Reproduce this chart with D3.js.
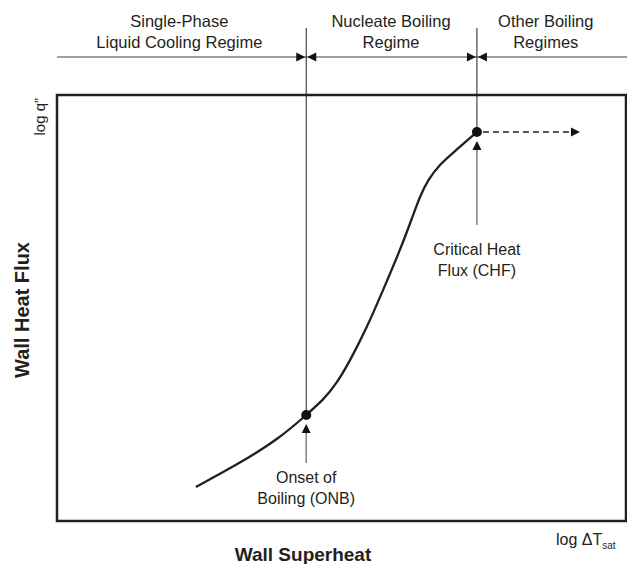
<!DOCTYPE html>
<html><head><meta charset="utf-8">
<script src="https://cdn.jsdelivr.net/npm/d3@7"></script>
<style>body{margin:0;background:#fff}svg{display:block}text{font-family:"Liberation Sans",Arial,sans-serif;fill:#231f20}</style>
</head><body>
<svg id="c" width="627" height="564"></svg>
<script>
// Boiling curve (arbitrary log units, 0-100 across the plot box)
const curveX = [24.4, 32.2, 39.2, 43.8, 46.8, 49.2, 51.5, 54.5, 57.3, 60.3, 62.4, 63.8, 65.2, 67.3, 70.0, 73.8];
const curveY = [8.0, 13.6, 19.5, 24.9, 28.4, 32.4, 37.6, 45.5, 54.2, 63.6, 71.1, 76.3, 80.1, 83.8, 86.9, 91.3];
const keyPoints = ["ONB", "CHF"];
const keyX = [43.8, 73.8];
const keyY = [24.9, 91.3];
const keyLabels = [["Onset of", "Boiling (ONB)"], ["Critical Heat", "Flux (CHF)"]];
const regimeLabels = [["Single-Phase", "Liquid Cooling Regime"], ["Nucleate Boiling", "Regime"], ["Other Boiling", "Regimes"]];
const regimeCenters = [21.5, 58.7, 85.9];
const dashEndX = 91.9;

const svg = d3.select("#c");
const box = {l: 57, t: 95, r: 626, b: 521};
const x = d3.scaleLinear().domain([0, 100]).range([box.l, box.r]);
const y = d3.scaleLinear().domain([0, 100]).range([box.b, box.t]);

function tri(g, tx, ty, dir, fill) {
  const L = 9, W = 4.5;
  let p;
  if (dir === 'r') p = [[tx, ty], [tx - L, ty - W], [tx - L, ty + W]];
  if (dir === 'l') p = [[tx, ty], [tx + L, ty - W], [tx + L, ty + W]];
  if (dir === 'u') p = [[tx, ty], [tx - W, ty + L], [tx + W, ty + L]];
  g.append("path").attr("d", "M" + p.map(d => d.join(",")).join("L") + "Z").attr("fill", fill || "#111");
}

// plot box
svg.append("rect").attr("x", box.l).attr("y", box.t).attr("width", box.r - box.l).attr("height", box.b - box.t)
  .attr("fill", "none").attr("stroke", "#231f20").attr("stroke-width", 2.5);

// regime divider line
const lineY = 57;
svg.append("line").attr("x1", box.l).attr("x2", 627).attr("y1", lineY).attr("y2", lineY)
  .attr("stroke", "#808080").attr("stroke-width", 1.5);
keyX.forEach(k => {
  const px = x(k);
  tri(svg, px - 1, lineY, 'r');
  tri(svg, px + 1, lineY, 'l');
});
keyX.forEach((k, i) => {
  svg.append("line").attr("x1", x(k)).attr("x2", x(k)).attr("y1", 28).attr("y2", y(keyY[i]))
    .attr("stroke", "#231f20").attr("stroke-width", 1);
});

// regime labels
regimeLabels.forEach((lab, i) => {
  const t = svg.append("text").attr("text-anchor", "middle").style("font-size", "16.5px");
  lab.forEach((s, j) => t.append("tspan").attr("x", x(regimeCenters[i])).attr("y", 27 + j * 21).text(s));
});

// curve
const pts = curveX.map((d, i) => [d, curveY[i]]);
svg.append("path").datum(pts)
  .attr("d", d3.line().x(d => x(d[0])).y(d => y(d[1])).curve(d3.curveBasis))
  .attr("fill", "none").attr("stroke", "#231f20").attr("stroke-width", 2.3);

// dashed continuation
const chfX = x(keyX[1]), chfY = y(keyY[1]);
svg.append("line").attr("x1", chfX + 6).attr("x2", x(dashEndX) - 8).attr("y1", chfY).attr("y2", chfY)
  .attr("stroke", "#231f20").attr("stroke-width", 1.6).attr("stroke-dasharray", "6,4");
tri(svg, x(dashEndX), chfY, 'r');

// key points
keyX.forEach((k, i) => {
  svg.append("circle").attr("cx", x(k)).attr("cy", y(keyY[i])).attr("r", 5).attr("fill", "#111");
});

// annotation arrows and labels
const arrowBottom = [463, 225];
const labelY = [483, 255];
keyX.forEach((k, i) => {
  const px = x(k), tipY = y(keyY[i]) + 9;
  svg.append("line").attr("x1", px).attr("x2", px).attr("y1", arrowBottom[i]).attr("y2", tipY + 6)
    .attr("stroke", "#808080").attr("stroke-width", 1.5);
  tri(svg, px, tipY, 'u');
  const t = svg.append("text").attr("text-anchor", "middle").style("font-size", "16px");
  keyLabels[i].forEach((s, j) => t.append("tspan").attr("x", px).attr("y", labelY[i] + j * 21).text(s));
});

// axis labels
svg.append("text").attr("transform", "translate(45,98) rotate(-90)").attr("text-anchor", "end")
  .style("font-size", "15px").text("log q\u201D");
svg.append("text").attr("transform", "translate(29,310) rotate(-90)").attr("text-anchor", "middle")
  .style("font-size", "20px").style("font-weight", "bold").text("Wall Heat Flux");
const lt = svg.append("text").attr("x", 556).attr("y", 545).style("font-size", "16px");
lt.append("tspan").text("log \u0394T");
lt.append("tspan").attr("dy", 4).style("font-size", "10px").text("sat");
svg.append("text").attr("x", 303).attr("y", 561).attr("text-anchor", "middle")
  .style("font-size", "19px").style("font-weight", "bold").text("Wall Superheat");
</script>
</body></html>
